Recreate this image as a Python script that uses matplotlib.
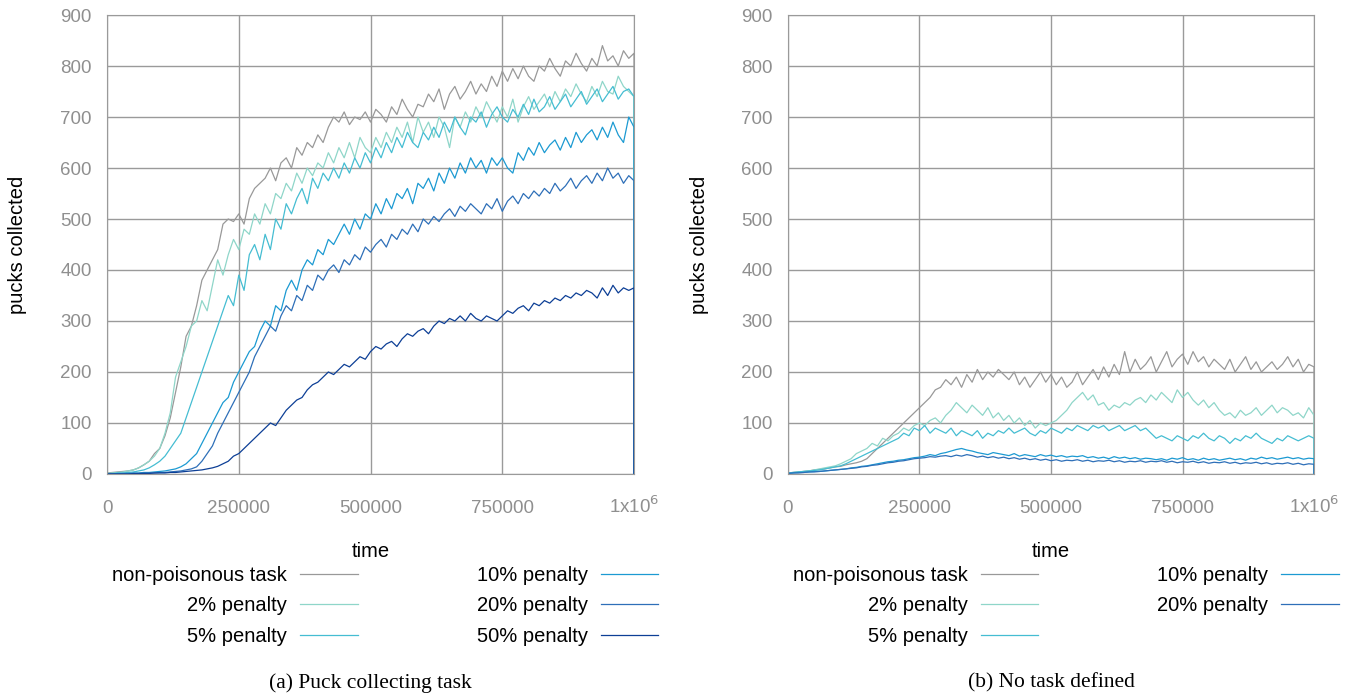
import numpy as np
import matplotlib
matplotlib.use('Agg')
import matplotlib.pyplot as plt

plt.rcParams['font.family'] = ['Liberation Sans', 'DejaVu Sans']

# time axis: every 10000 steps, plus a final point where the runs end (value 0)
time = list(range(0, 1000001, 10000)) + [1000000]

# ---- (a) puck collecting task ----
a_none = [2, 3, 4, 5, 6, 8, 12, 18, 25, 40,
          50, 75, 110, 160, 210, 270, 290, 330, 380, 400,
          420, 440, 490, 500, 495, 510, 490, 540, 560, 570,
          580, 600, 575, 610, 620, 600, 640, 625, 650, 640,
          665, 650, 680, 700, 690, 710, 685, 700, 695, 710,
          690, 715, 705, 690, 720, 705, 735, 715, 700, 725,
          720, 745, 730, 755, 715, 745, 760, 735, 750, 770,
          745, 765, 750, 780, 760, 790, 770, 795, 775, 800,
          780, 770, 800, 790, 815, 795, 780, 810, 800, 825,
          805, 790, 815, 800, 840, 810, 820, 800, 830, 815,
          825, 0]
a_p2 = [1, 2, 3, 4, 6, 8, 12, 18, 25, 35,
        50, 80, 120, 190, 220, 250, 290, 300, 340, 320,
        370, 420, 390, 430, 460, 440, 480, 470, 510, 490,
        530, 510, 550, 540, 570, 555, 590, 570, 600, 585,
        610, 600, 630, 610, 640, 620, 650, 620, 660, 640,
        630, 660, 640, 670, 650, 680, 660, 690, 650, 700,
        670, 690, 660, 700, 680, 640, 700, 680, 710, 690,
        720, 700, 730, 710, 690, 720, 700, 735, 690, 720,
        740, 715, 730, 745, 720, 750, 730, 755, 740, 765,
        745, 730, 760, 740, 770, 750, 745, 780, 760, 750,
        740, 0]
a_p5 = [1, 1, 2, 2, 3, 4, 6, 8, 12, 18,
        25, 35, 50, 65, 80, 110, 140, 170, 200, 230,
        260, 290, 320, 350, 330, 390, 360, 430, 450, 420,
        470, 440, 500, 480, 530, 510, 540, 560, 530, 580,
        560, 590, 575, 600, 580, 610, 590, 620, 600, 630,
        610, 640, 620, 650, 630, 660, 640, 670, 650, 640,
        670, 655, 680, 660, 690, 670, 700, 680, 665, 700,
        690, 710, 680, 705, 720, 700, 690, 715, 700, 725,
        705, 735, 710, 720, 740, 715, 730, 745, 720, 735,
        750, 725, 740, 755, 730, 745, 760, 735, 750, 755,
        740, 0]
a_p10 = [0, 0, 1, 1, 1, 2, 2, 3, 3, 4,
         5, 6, 8, 10, 14, 20, 30, 40, 60, 80,
         100, 120, 140, 150, 180, 200, 220, 240, 250, 280,
         300, 290, 330, 320, 360, 380, 360, 400, 420, 410,
         440, 430, 460, 450, 470, 490, 470, 500, 480, 510,
         500, 530, 510, 540, 520, 550, 540, 560, 530, 570,
         560, 580, 555, 590, 570, 600, 580, 610, 590, 620,
         600, 615, 590, 620, 605, 620, 600, 590, 630, 615,
         640, 625, 650, 630, 645, 655, 635, 660, 640, 670,
         650, 665, 675, 655, 680, 660, 690, 665, 650, 700,
         680, 0]
a_p20 = [0, 0, 0, 1, 1, 1, 1, 2, 2, 2,
         3, 3, 4, 5, 6, 8, 10, 14, 25, 40,
         55, 80, 100, 120, 140, 160, 180, 200, 230, 250,
         270, 290, 280, 310, 330, 320, 350, 340, 370, 360,
         390, 380, 400, 410, 395, 420, 410, 430, 420, 445,
         435, 450, 460, 445, 470, 460, 480, 470, 490, 475,
         500, 490, 505, 495, 510, 520, 505, 525, 515, 530,
         520, 510, 530, 520, 540, 515, 535, 545, 530, 550,
         540, 555, 545, 560, 550, 570, 555, 565, 580, 560,
         575, 585, 570, 590, 575, 600, 580, 590, 570, 585,
         575, 0]
a_p50 = [0, 0, 0, 0, 0, 1, 1, 1, 1, 2,
         2, 2, 3, 3, 4, 5, 6, 7, 8, 10,
         12, 15, 20, 25, 35, 40, 50, 60, 70, 80,
         90, 100, 95, 110, 125, 135, 145, 150, 165, 175,
         180, 190, 200, 195, 205, 215, 210, 220, 230, 225,
         240, 250, 245, 255, 260, 250, 265, 275, 270, 280,
         285, 275, 290, 300, 295, 305, 300, 310, 300, 315,
         305, 300, 310, 305, 300, 310, 320, 315, 325, 330,
         320, 335, 330, 340, 335, 345, 340, 350, 345, 355,
         350, 360, 355, 345, 365, 350, 370, 355, 365, 360,
         365, 0]

# ---- (b) no task defined ----
b_none = [2, 3, 4, 5, 6, 8, 9, 10, 12, 14,
          15, 18, 20, 22, 25, 30, 40, 50, 60, 70,
          80, 90, 100, 110, 120, 130, 140, 150, 165, 170,
          185, 175, 190, 170, 195, 180, 205, 185, 200, 190,
          205, 195, 185, 200, 175, 190, 170, 185, 200, 180,
          195, 175, 190, 170, 180, 200, 175, 190, 205, 185,
          210, 190, 215, 195, 240, 200, 225, 205, 215, 230,
          200, 220, 240, 210, 225, 235, 215, 240, 220, 230,
          210, 225, 215, 205, 225, 200, 215, 230, 205, 220,
          200, 210, 220, 205, 215, 230, 210, 225, 200, 215,
          210, 0]
b_p2 = [2, 3, 4, 5, 6, 8, 10, 12, 14, 16,
        20, 25, 30, 40, 45, 50, 60, 55, 70, 65,
        75, 80, 90, 85, 95, 100, 95, 105, 110, 100,
        115, 125, 140, 130, 120, 135, 125, 115, 130, 110,
        120, 105, 115, 100, 110, 95, 105, 90, 100, 95,
        100, 105, 115, 125, 140, 150, 160, 145, 155, 135,
        140, 125, 135, 130, 140, 135, 145, 150, 140, 155,
        145, 160, 150, 140, 165, 150, 160, 145, 135, 145,
        130, 140, 125, 115, 120, 110, 125, 115, 120, 130,
        115, 125, 135, 120, 130, 125, 115, 120, 110, 130,
        115, 0]
b_p5 = [2, 3, 4, 5, 6, 7, 8, 10, 12, 14,
        16, 20, 25, 30, 35, 40, 45, 50, 55, 60,
        65, 70, 80, 75, 90, 85, 95, 80, 90, 85,
        80, 90, 75, 85, 80, 75, 85, 70, 80, 75,
        85, 80, 90, 80, 85, 90, 80, 75, 85, 80,
        90, 85, 80, 90, 85, 95, 90, 85, 95, 90,
        95, 85, 90, 95, 85, 90, 95, 85, 90, 80,
        70, 75, 70, 65, 75, 70, 65, 75, 70, 80,
        70, 65, 75, 70, 60, 70, 65, 75, 70, 80,
        70, 65, 60, 70, 65, 75, 70, 65, 70, 75,
        70, 0]
b_p10 = [1, 2, 3, 3, 4, 5, 5, 6, 7, 8,
         9, 10, 12, 13, 15, 16, 18, 20, 22, 24,
         25, 27, 28, 30, 32, 33, 35, 38, 36, 40,
         42, 45, 48, 50, 47, 45, 42, 40, 38, 42,
         40, 38, 36, 40, 35, 38, 36, 34, 38, 35,
         37, 34, 36, 33, 35, 34, 36, 32, 34, 31,
         33, 30, 34, 31, 33, 30, 32, 29, 31, 30,
         28, 30, 27, 31, 29, 32, 28, 30, 27, 31,
         28, 30, 27, 29, 31, 28, 30, 27, 31, 29,
         33, 30, 32, 29, 31, 33, 30, 32, 29, 31,
         30, 0]
b_p20 = [1, 2, 2, 3, 4, 4, 5, 6, 7, 8,
         9, 10, 11, 12, 14, 15, 17, 18, 20, 22,
         23, 25, 26, 28, 30, 31, 32, 34, 33, 35,
         36, 34, 37, 35, 38, 36, 33, 35, 32, 34,
         31, 33, 30, 32, 29, 31, 28, 30, 27, 29,
         26, 28, 25, 27, 26, 28, 25, 27, 24, 26,
         25, 27, 24, 26, 23, 25, 24, 26, 23, 25,
         24, 26, 23, 25, 22, 24, 23, 25, 22, 24,
         21, 23, 22, 24, 21, 23, 20, 22, 21, 23,
         20, 22, 19, 21, 20, 22, 19, 21, 18, 20,
         19, 0]

labels = ['non-poisonous task', '2% penalty', '5% penalty',
          '10% penalty', '20% penalty', '50% penalty']
colors = ['#999999', '#8fd6c9', '#45bdd2', '#1c9ad2', '#2e6fb8', '#0d3f96']

panels = [
    ([a_none, a_p2, a_p5, a_p10, a_p20, a_p50], '(a) Puck collecting task'),
    ([b_none, b_p2, b_p5, b_p10, b_p20], '(b) No task defined'),
]

fig = plt.figure(figsize=(13.6, 6.95), dpi=100)
ax_pos = [[0.0787, 0.318, 0.3875, 0.6604], [0.5794, 0.318, 0.3868, 0.6604]]

for k, (series, caption) in enumerate(panels):
    ax = fig.add_axes(ax_pos[k])
    for i, s in enumerate(series):
        ax.plot(time, s, color=colors[i], lw=0.9, label=labels[i])
    ax.set_xlim(0, 1000000)
    ax.set_ylim(0, 900)
    ax.set_xticks([0, 250000, 500000, 750000, 1000000])
    ax.set_xticklabels(['0', '250000', '500000', '750000', '1x10$^6$'])
    ax.set_yticks(range(0, 901, 100))
    ax.grid(True, color='#9a9a9a', lw=1)
    for sp in ax.spines.values():
        sp.set_color('#9a9a9a')
    ax.tick_params(length=0, labelsize=13.5, colors='#8f8f8f', pad=11)
    ax.tick_params(axis='x', pad=28)
    for lab in ax.get_xticklabels():
        lab.set_va('baseline')
    ax.set_xlabel('time', fontsize=14.5)
    ax.set_ylabel('pucks collected', fontsize=14.5)
    ax.xaxis.set_label_coords(0.5, -0.148)
    ax.yaxis.set_label_coords(-0.151, 0.5)
    ax.legend(ncol=2, markerfirst=False, frameon=False, fontsize=14.5,
              loc='center', bbox_to_anchor=(0.528, -0.2876),
              handlelength=2.85, handletextpad=0.65, columnspacing=5.9,
              labelspacing=0.58)
    cx = ax_pos[k][0] + ax_pos[k][2] / 2
    fig.text(cx, 1 - 683 / 695, caption, ha='center', va='center',
             fontsize=15.5, family='Liberation Serif')

plt.savefig('out.png', dpi=100)
